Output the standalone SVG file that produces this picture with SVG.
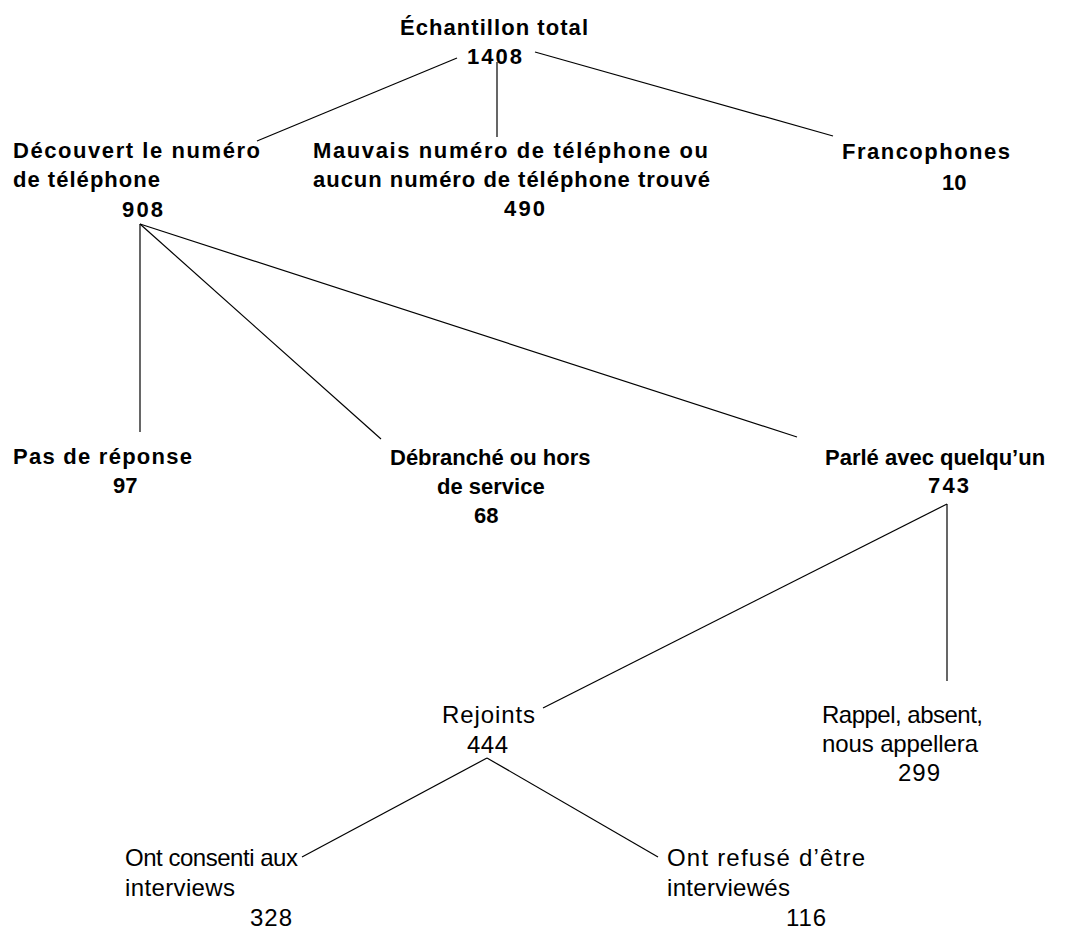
<svg xmlns="http://www.w3.org/2000/svg" width="1079" height="936" viewBox="0 0 1079 936">
<style>
text{font-family:"Liberation Sans",Arial,sans-serif;fill:#000}
.b{font-weight:bold;font-size:22px}
.r{font-size:24px}
.c line{stroke:#000;stroke-width:1.2;fill:none}
</style>
<rect width="1079" height="936" fill="#fff"/>
<g class="c" id="connectors">
<line x1="457" y1="58" x2="257" y2="141"/>
<line x1="497" y1="62" x2="497" y2="137"/>
<line x1="535" y1="52" x2="833" y2="136"/>
<line x1="140" y1="224" x2="140" y2="432"/>
<line x1="140" y1="224" x2="381" y2="439"/>
<line x1="140" y1="224" x2="797" y2="437"/>
<line x1="947" y1="504" x2="543" y2="708"/>
<line x1="947" y1="504" x2="947" y2="681"/>
<line x1="487" y1="758" x2="302" y2="857"/>
<line x1="487" y1="758" x2="658" y2="857"/>
</g>
<g id="total">
<text class="b" x="400" y="35" textLength="188" lengthAdjust="spacing">Échantillon total</text>
<text class="b" x="467" y="64" textLength="55" lengthAdjust="spacing">1408</text>
</g>
<g id="decouvert">
<text class="b" x="13" y="158" textLength="247" lengthAdjust="spacing">Découvert le numéro</text>
<text class="b" x="13" y="187" textLength="147" lengthAdjust="spacing">de téléphone</text>
<text class="b" x="122" y="217" textLength="41" lengthAdjust="spacing">908</text>
</g>
<g id="mauvais">
<text class="b" x="313" y="158" textLength="395" lengthAdjust="spacing">Mauvais numéro de téléphone ou</text>
<text class="b" x="313" y="187" textLength="397" lengthAdjust="spacing">aucun numéro de téléphone trouvé</text>
<text class="b" x="504" y="216" textLength="41" lengthAdjust="spacing">490</text>
</g>
<g id="francophones">
<text class="b" x="842" y="159" textLength="168" lengthAdjust="spacing">Francophones</text>
<text class="b" x="942" y="190">10</text>
</g>
<g id="pasdereponse">
<text class="b" x="13" y="464" textLength="179" lengthAdjust="spacing">Pas de réponse</text>
<text class="b" x="113" y="493">97</text>
</g>
<g id="debranche">
<text class="b" x="390" y="465">Débranché ou hors</text>
<text class="b" x="437" y="494">de service</text>
<text class="b" x="474" y="523">68</text>
</g>
<g id="parle">
<text class="b" x="825" y="465">Parlé avec quelqu’un</text>
<text class="b" x="928" y="493" textLength="41" lengthAdjust="spacing">743</text>
</g>
<g id="rejoints">
<text class="r" x="442" y="723" textLength="93" lengthAdjust="spacing">Rejoints</text>
<text class="r" x="467" y="753" textLength="41" lengthAdjust="spacing">444</text>
</g>
<g id="rappel">
<text class="r" x="822" y="723" textLength="161" lengthAdjust="spacing">Rappel, absent,</text>
<text class="r" x="822" y="752" textLength="156" lengthAdjust="spacing">nous appellera</text>
<text class="r" x="898" y="781" textLength="42" lengthAdjust="spacing">299</text>
</g>
<g id="consenti">
<text class="r" x="125" y="866" textLength="173" lengthAdjust="spacing">Ont consenti aux</text>
<text class="r" x="125" y="896" textLength="110" lengthAdjust="spacing">interviews</text>
<text class="r" x="250" y="926" textLength="42" lengthAdjust="spacing">328</text>
</g>
<g id="refuse">
<text class="r" x="667" y="866" textLength="198" lengthAdjust="spacing">Ont refusé d’être</text>
<text class="r" x="667" y="896" textLength="123" lengthAdjust="spacing">interviewés</text>
<text class="r" x="786" y="926" textLength="40" lengthAdjust="spacing">116</text>
</g>
</svg>
